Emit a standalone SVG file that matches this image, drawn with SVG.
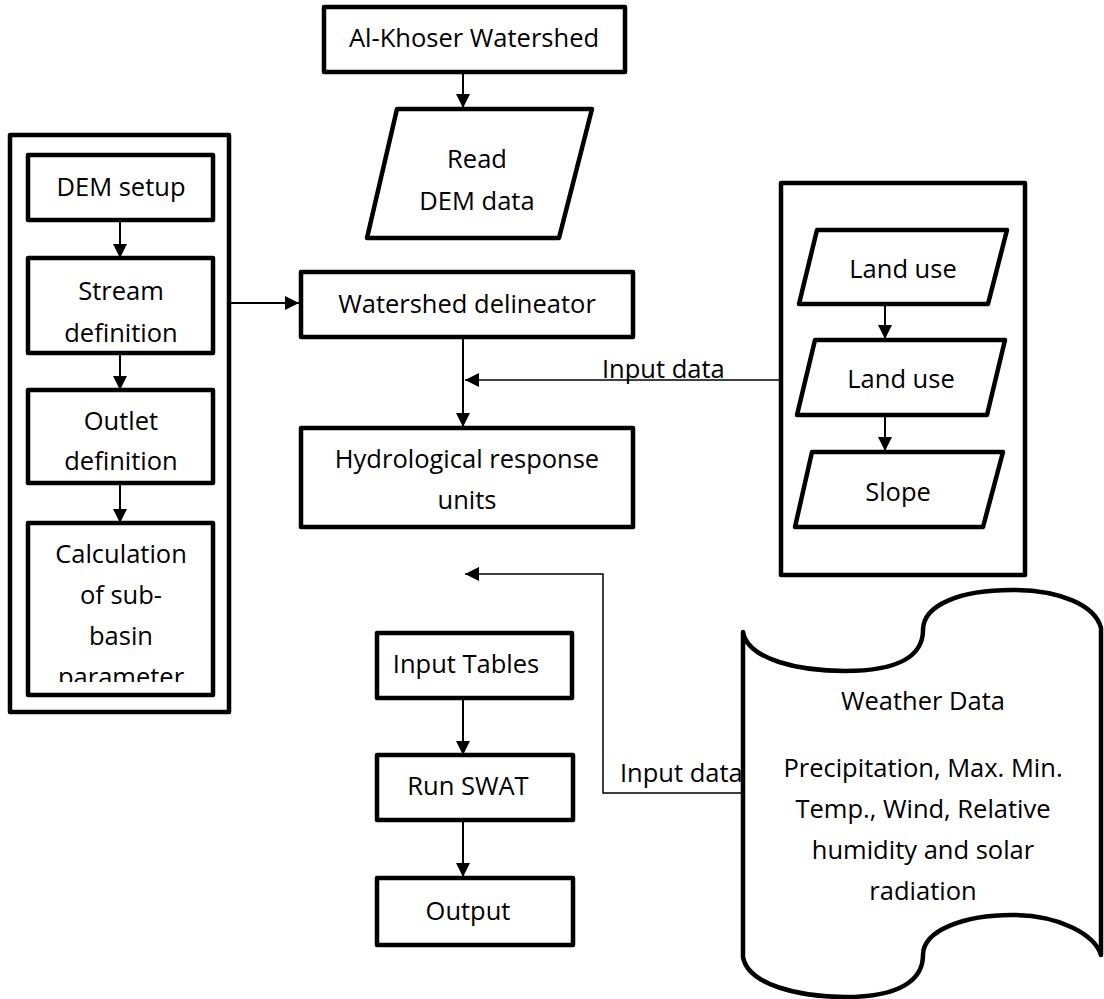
<svg xmlns="http://www.w3.org/2000/svg" width="1104" height="999" viewBox="0 0 1104 999">
<style>
.box{fill:#fff;stroke:#000;stroke-width:4.5;stroke-linejoin:round}
.grp{fill:none;stroke:#000;stroke-width:4.5;stroke-linejoin:round}
.t{font-family:"Open Sans","Liberation Sans",sans-serif;font-size:25.5px;fill:#000;text-anchor:middle}
.lbl{font-family:"Open Sans","Liberation Sans",sans-serif;font-size:25.5px;fill:#000}
.c{fill:none;stroke:#000;stroke-width:2}
.ct{fill:none;stroke:#000;stroke-width:1.5}
</style>
<defs>
<marker id="ah" markerUnits="userSpaceOnUse" markerWidth="14" markerHeight="14" refX="14" refY="7" orient="auto">
<path d="M0,0 L14,7 L0,14 z" fill="#000"/>
</marker>
<clipPath id="calcClip"><rect x="30" y="523" width="182" height="159"/></clipPath>
</defs>

<g id="left-group">
<rect class="grp" x="10" y="135" width="219" height="577"/>
</g>
<g id="dem-setup">
<rect class="box" x="28" y="155" width="185" height="65"/>
<text class="t" x="121" y="196">DEM setup</text>
</g>
<g id="stream-definition">
<rect class="box" x="28" y="258" width="185" height="95"/>
<text class="t" x="121" y="300">Stream</text>
<text class="t" x="121" y="342">definition</text>
</g>
<g id="outlet-definition">
<rect class="box" x="28" y="390" width="185" height="93"/>
<text class="t" x="121" y="430">Outlet</text>
<text class="t" x="121" y="470">definition</text>
</g>
<g id="calculation">
<rect class="box" x="28" y="523" width="185" height="172"/>
<g clip-path="url(#calcClip)">
<text class="t" x="121" y="563">Calculation</text>
<text class="t" x="121" y="604">of sub-</text>
<text class="t" x="121" y="645">basin</text>
<text class="t" x="121" y="686">parameter</text>
</g>
</g>

<g id="al-khoser">
<rect class="box" x="324" y="7" width="301" height="65"/>
<text class="t" x="474" y="47">Al-Khoser Watershed</text>
</g>
<g id="read-dem">
<polygon class="box" points="397,109 592,109 559,238 367,238"/>
<text class="t" x="477" y="168">Read</text>
<text class="t" x="477" y="210">DEM data</text>
</g>
<g id="watershed-delineator">
<rect class="box" x="301" y="272" width="332" height="65"/>
<text class="t" x="467" y="313">Watershed delineator</text>
</g>
<g id="hru">
<rect class="box" x="301" y="428" width="332" height="99"/>
<text class="t" x="467" y="468">Hydrological response</text>
<text class="t" x="467" y="509">units</text>
</g>

<g id="right-group">
<rect class="grp" x="781" y="183" width="244" height="392"/>
</g>
<g id="land-use-1">
<polygon class="box" points="817,230 1007,230 988,304 799,304"/>
<text class="t" x="903" y="278">Land use</text>
</g>
<g id="land-use-2">
<polygon class="box" points="815,340 1005,340 987,415 797,415"/>
<text class="t" x="901" y="388">Land use</text>
</g>
<g id="slope">
<polygon class="box" points="812,452 1003,452 983,527 795,527"/>
<text class="t" x="898" y="501">Slope</text>
</g>

<g id="input-tables">
<rect class="box" x="377" y="633" width="195" height="65"/>
<text class="t" x="466" y="673">Input Tables</text>
</g>
<g id="run-swat">
<rect class="box" x="377" y="755" width="196" height="65"/>
<text class="t" x="468" y="795">Run SWAT</text>
</g>
<g id="output">
<rect class="box" x="377" y="878" width="196" height="67"/>
<text class="t" x="468" y="920">Output</text>
</g>

<g id="connectors">
<line class="c" x1="120" y1="220" x2="120" y2="258" marker-end="url(#ah)"/>
<line class="c" x1="120" y1="353" x2="120" y2="390" marker-end="url(#ah)"/>
<line class="c" x1="120" y1="483" x2="120" y2="523" marker-end="url(#ah)"/>
<line class="c" x1="231" y1="303" x2="299" y2="303" marker-end="url(#ah)"/>
<line class="c" x1="463" y1="72" x2="463" y2="108" marker-end="url(#ah)"/>
<line class="c" x1="463" y1="337" x2="463" y2="427" marker-end="url(#ah)"/>
<line class="ct" x1="781" y1="380" x2="465" y2="380" marker-end="url(#ah)"/>
<line class="c" x1="885" y1="304" x2="885" y2="339" marker-end="url(#ah)"/>
<line class="c" x1="885" y1="415" x2="885" y2="451" marker-end="url(#ah)"/>
<polyline class="ct" points="743,793 603,793 603,574 465,574" marker-end="url(#ah)"/>
<line class="c" x1="463" y1="698" x2="463" y2="755" marker-end="url(#ah)"/>
<line class="c" x1="463" y1="820" x2="463" y2="877" marker-end="url(#ah)"/>
<text class="lbl" x="602" y="378">Input data</text>
<text class="lbl" x="620" y="782">Input data</text>
</g>

<g id="weather-data">
<path class="box" d="M743,632 C748,660 800,671 845,671 C900,671 923,655 923,630 C923,605 960,590 1012,590 C1060,590 1095,605 1101,628 L1101,955 C1095,935 1060,915 1012,915 C965,915 923,930 923,955 C923,980 900,997 845,997 C800,997 748,985 743,957 Z"/>
<text class="t" x="923" y="710">Weather Data</text>
<text class="t" x="923" y="777">Precipitation, Max. Min.</text>
<text class="t" x="923" y="818">Temp., Wind, Relative</text>
<text class="t" x="923" y="859">humidity and solar</text>
<text class="t" x="923" y="900">radiation</text>
</g>
</svg>
